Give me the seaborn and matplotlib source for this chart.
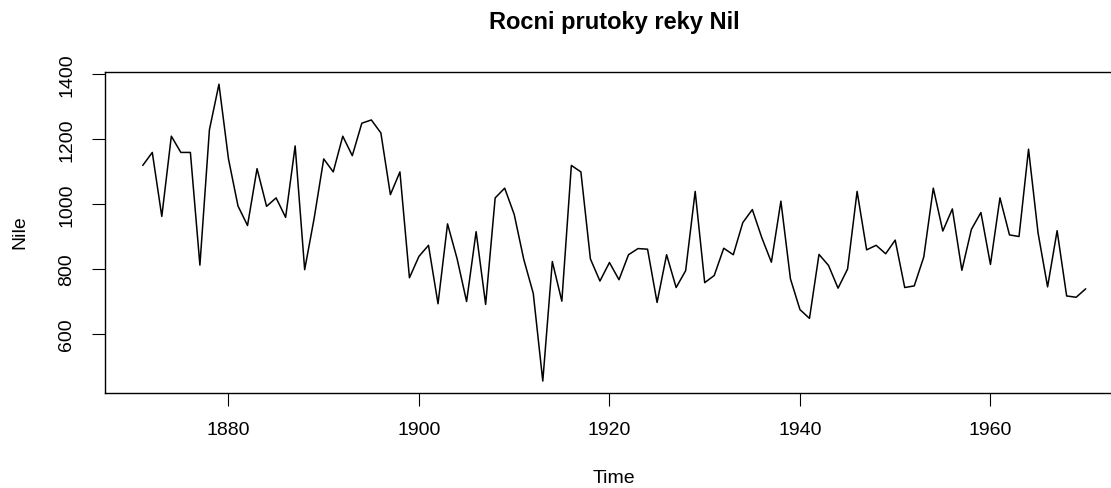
import pandas as pd
import numpy as np
import matplotlib
matplotlib.use('Agg')
import matplotlib.pyplot as plt
import seaborn as sns

# rocni prutoky Nilu v Asuanu, 1871-1970
years = list(range(1871, 1971))
nile = [1120, 1160, 963, 1210, 1160, 1160, 813, 1230, 1370, 1140,
        995, 935, 1110, 994, 1020, 960, 1180, 799, 958, 1140,
        1100, 1210, 1150, 1250, 1260, 1220, 1030, 1100, 774, 840,
        874, 694, 940, 833, 701, 916, 692, 1020, 1050, 969,
        831, 726, 456, 824, 702, 1120, 1100, 832, 764, 821,
        768, 845, 864, 862, 698, 845, 744, 796, 1040, 759,
        781, 865, 845, 944, 984, 897, 822, 1010, 771, 676,
        649, 846, 812, 742, 801, 1040, 860, 874, 848, 890,
        744, 749, 838, 1050, 918, 986, 797, 923, 975, 815,
        1020, 906, 901, 1170, 912, 746, 919, 718, 714, 740]
xticks = [1880, 1900, 1920, 1940, 1960]
yticks = [600, 800, 1000, 1200, 1400]

df = pd.DataFrame({'Time': years, 'Nile': nile})

sns.set_style('white')
plt.rcParams['font.family'] = ['Liberation Sans', 'DejaVu Sans']
plt.rcParams['text.color'] = 'black'

# a hair over 11.11 so the canvas rounds to 1111 x 488
fig = plt.figure(figsize=(11.114, 4.884), dpi=100)
# R-like plot region; right edge of the box falls outside the picture
ax = fig.add_axes([105 / 1111, 1 - 393 / 488, 1018 / 1111, 320.3 / 488])
sns.lineplot(data=df, x='Time', y='Nile', color='black', linewidth=1.1, ax=ax)

rng_x = years[-1] - years[0]
rng_y = max(nile) - min(nile)
ax.set_xlim(years[0] - 0.04 * rng_x, years[-1] + 0.04 * rng_x)
ax.set_ylim(min(nile) - 0.04 * rng_y, max(nile) + 0.04 * rng_y)
ax.set_xticks(xticks)
ax.set_yticks(yticks)
ax.set_yticklabels([str(v) for v in yticks], rotation=90, va='center')
ax.tick_params(axis='both', direction='out', length=9.4, width=0.8,
               color='black', labelsize=14, labelcolor='black',
               bottom=True, left=True, top=False, right=False)
ax.tick_params(axis='x', pad=11)
ax.tick_params(axis='y', pad=12)
for s in ax.spines.values():
    s.set_color('black')
    s.set_linewidth(1.0)
ax.spines['right'].set_visible(False)

ax.set_xlabel('')
ax.set_ylabel('')
fig.text(614 / 1111, 1 - 478 / 488, 'Time', ha='center', va='center', fontsize=14)
fig.text(20 / 1111, 1 - 232 / 488, 'Nile', ha='center', va='center', rotation=90, fontsize=14)
fig.text(614 / 1111, 1 - 22 / 488, 'Rocni prutoky reky Nil', ha='center', va='center',
         fontsize=17, fontweight='bold')

fig.savefig('out.png', dpi=100)
